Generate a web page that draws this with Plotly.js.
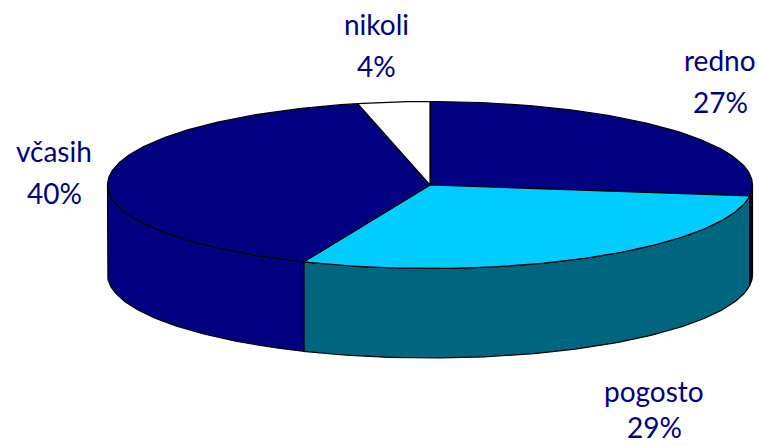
<!DOCTYPE html>
<html>
<head>
<meta charset="utf-8">
<script src="https://cdn.plot.ly/plotly-3.0.1.min.js"></script>
<style>html,body{margin:0;padding:0;background:#fff}#chart{width:759px;height:446px}</style>
</head>
<body>
<div id="chart"></div>
<script>
// Data
const categories = ['redno', 'pogosto', 'včasih', 'nikoli'];
const shares = [27.1, 29.3, 40.0, 3.6];

// Style
const topColors = ['#000080', '#00CCFF', '#000080', '#FFFFFF'];
const sideColors = ['#000040', '#006680', '#000080', '#808080'];
const textColor = '#000080';
const fontFamily = '"Comic Sans MS", "Lato", "Noto Sans", sans-serif';
const fontSize = 28;

// Geometry of the tilted disc, in pixel-like axis units
const cx = 430, cy = 185, rx = 322.5, ry = 83.5, depth = 89.5;
const labelCentres = [[720, 60, 102], [654, 391, 427], [54, 151, 193], [376, 24, 66]];

const rad = d => d * Math.PI / 180;
const px = t => cx + rx * Math.sin(rad(t));
const py = t => cy - ry * Math.cos(rad(t));

function arc(a, b) {
  const pts = [];
  const n = Math.max(2, Math.ceil(Math.abs(b - a)));
  for (let i = 0; i <= n; i++) pts.push(a + (b - a) * i / n);
  return pts;
}

const total = shares.reduce((s, v) => s + v, 0);
let running = 0;
const spans = shares.map(v => {
  const a = running / total * 360;
  running += v;
  return [a, running / total * 360];
});

const line = {color: '#000000', width: 1.2};
const traces = [];

// Side walls: only the part of each slice on the front half of the rim
spans.forEach(([a, b], i) => {
  const from = Math.max(a, 90), to = Math.min(b, 270);
  if (to <= from) return;
  const ts = arc(from, to);
  const x = ts.map(px).concat(ts.slice().reverse().map(px));
  const y = ts.map(py).concat(ts.slice().reverse().map(t => py(t) + depth));
  x.push(x[0]); y.push(y[0]);
  traces.push({type: 'scatter', mode: 'lines', x, y, fill: 'toself',
    fillcolor: sideColors[i], line, hoverinfo: 'text',
    text: categories[i] + ' ' + Math.round(shares[i]) + '%', showlegend: false});
});

// Top faces
spans.forEach(([a, b], i) => {
  const ts = arc(a, b);
  const x = [cx].concat(ts.map(px), [cx]);
  const y = [cy].concat(ts.map(py), [cy]);
  traces.push({type: 'scatter', mode: 'lines', x, y, fill: 'toself',
    fillcolor: topColors[i], line, hoverinfo: 'text',
    text: categories[i] + ' ' + Math.round(shares[i]) + '%', showlegend: false});
});

const annotations = [];
categories.forEach((c, i) => {
  const [lx, y1, y2] = labelCentres[i];
  [[c, y1], [Math.round(shares[i]) + '%', y2]].forEach(([text, y]) => {
    annotations.push({x: lx, y, xref: 'x', yref: 'y', text, showarrow: false,
      xanchor: 'center', yanchor: 'middle',
      font: {family: fontFamily, size: fontSize, color: textColor}});
  });
});

const axis = {visible: false, fixedrange: true};
Plotly.newPlot('chart', traces, {
  width: 759, height: 446,
  margin: {l: 0, r: 0, t: 0, b: 0},
  paper_bgcolor: '#ffffff', plot_bgcolor: '#ffffff',
  xaxis: Object.assign({range: [0, 759]}, axis),
  yaxis: Object.assign({range: [446, 0]}, axis),
  showlegend: false,
  annotations
}, {displayModeBar: false, staticPlot: false});
</script>
</body>
</html>
